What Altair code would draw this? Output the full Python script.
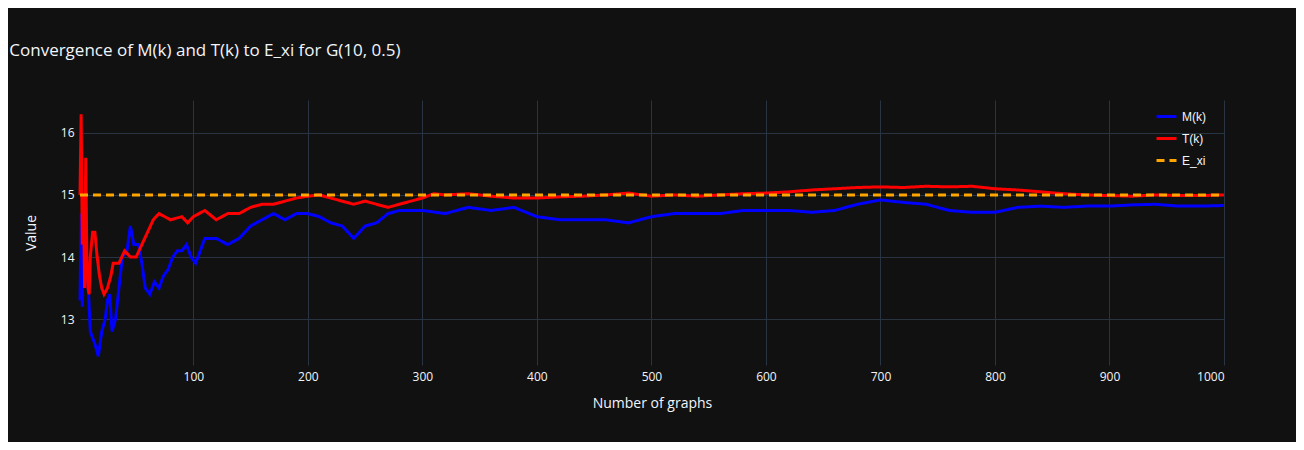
import altair as alt
import pandas as pd

k_m = [1,2,3,4,5,6,8,10,14,17,20,23,25,27,29,32,35,38,42,45,48,52,55,58,62,66,70,74,78,82,86,90,94,98,102,106,110,120,130,140,150,160,170,180,190,200,210,220,230,240,250,260,270,280,290,300,320,340,360,380,400,420,440,460,480,500,520,540,560,580,600,620,640,660,680,700,720,740,760,780,800,820,840,860,880,900,920,940,960,980,1000]
m_vals = [13.3,14.7,13.2,14.5,13.5,13.9,13.6,12.8,12.6,12.4,12.8,13.0,13.3,13.4,12.8,13.0,13.5,14.0,14.1,14.5,14.2,14.2,13.9,13.5,13.4,13.6,13.5,13.7,13.8,14.0,14.1,14.1,14.2,14.0,13.9,14.1,14.3,14.3,14.2,14.3,14.5,14.6,14.7,14.6,14.7,14.7,14.65,14.55,14.5,14.3,14.5,14.55,14.7,14.75,14.75,14.75,14.7,14.8,14.75,14.8,14.65,14.6,14.6,14.6,14.55,14.65,14.7,14.7,14.7,14.75,14.75,14.75,14.72,14.75,14.85,14.92,14.88,14.85,14.75,14.72,14.72,14.8,14.82,14.8,14.82,14.82,14.84,14.85,14.82,14.82,14.83]
k_t = [1,2,3,4,5,6,7,8,9,10,12,14,16,18,20,22,25,28,30,35,40,45,50,55,60,65,70,80,90,95,100,110,120,130,140,150,160,170,180,190,200,210,220,230,240,250,260,270,280,290,300,310,320,340,360,380,400,420,440,460,480,500,520,540,560,580,600,620,640,660,680,700,720,740,760,780,800,820,840,860,880,900,920,940,960,980,1000]
t_vals = [15.0,16.3,14.2,15.0,13.5,15.6,14.0,13.5,13.4,14.0,14.4,14.4,14.0,13.7,13.5,13.4,13.5,13.7,13.9,13.9,14.1,14.0,14.0,14.2,14.4,14.6,14.7,14.6,14.65,14.55,14.65,14.75,14.6,14.7,14.7,14.8,14.85,14.85,14.9,14.95,14.98,15.0,14.95,14.9,14.85,14.9,14.85,14.8,14.85,14.9,14.95,15.02,15.0,15.02,14.98,14.95,14.95,14.97,14.98,15.0,15.03,14.98,15.0,14.98,15.0,15.02,15.03,15.05,15.08,15.1,15.12,15.13,15.12,15.14,15.13,15.14,15.1,15.08,15.05,15.02,15.0,14.99,14.98,15.0,14.99,14.99,15.0]
e_k = [1, 1000]
e_vals = [15.0, 15.0]

rows = [{"k": k, "v": v, "s": "M(k)"} for k, v in zip(k_m, m_vals)]
rows += [{"k": k, "v": v, "s": "T(k)"} for k, v in zip(k_t, t_vals)]
rows += [{"k": k, "v": v, "s": "E_xi"} for k, v in zip(e_k, e_vals)]
df = pd.DataFrame(rows)

order = ["M(k)", "T(k)", "E_xi"]
fg = "#f2f5fa"
chart = alt.Chart(df).mark_line(strokeWidth=3).encode(
    x=alt.X("k:Q", scale=alt.Scale(domain=[1, 1000], nice=False, zero=False),
            axis=alt.Axis(values=list(range(100, 1001, 100)), format="d", title="Number of graphs")),
    y=alt.Y("v:Q", scale=alt.Scale(domain=[12.26, 16.53], nice=False, zero=False),
            axis=alt.Axis(values=[13, 14, 15, 16], title="Value")),
    color=alt.Color("s:N", sort=order, scale=alt.Scale(domain=order, range=["#0000ff", "#ff0000", "#ffa500"]),
                    legend=alt.Legend(title=None, orient="none", legendX=1075, legendY=5,
                                      symbolType="stroke", symbolStrokeWidth=3, symbolSize=400,
                                      labelColor=fg, labelFontSize=12, rowPadding=4)),
    strokeDash=alt.StrokeDash("s:N", sort=order, scale=alt.Scale(domain=order, range=[[1, 0], [1, 0], [8, 5]]), legend=None),
    order=alt.Order("k:Q"),
).properties(
    width=1144, height=265,
    title=alt.Title("Convergence of M(k) and T(k) to E_xi for G(10, 0.5)", anchor="start", dx=-15, offset=40,
                    color=fg, fontSize=17, fontWeight="normal", font="Open Sans"),
    background="#111111",
    padding={"left": 72, "top": 92, "right": 72, "bottom": 77},
    autosize=alt.AutoSizeParams(type="none"),
).configure_view(stroke=None).configure_axis(
    gridColor="#283442", domain=False, ticks=False, labelColor=fg, titleColor=fg,
    labelFontSize=12, titleFontSize=14, titleFontWeight="normal", labelFont="Open Sans", titleFont="Open Sans",
    labelPadding=6,
).configure_axisX(titlePadding=14).configure_axisY(titlePadding=22)

chart.save("out.html", embed_options={"renderer": "svg", "actions": False})
